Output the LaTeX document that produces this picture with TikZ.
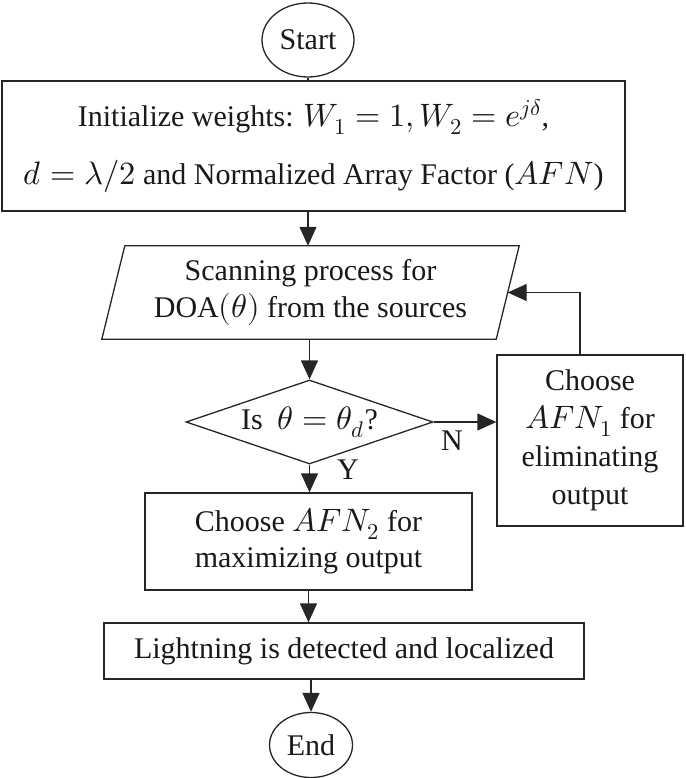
\documentclass[tikz,border=0pt]{standalone}
\usepackage{fontspec}
\usepackage{unicode-math}
\setmainfont{Liberation Serif}
\setmathfont{Latin Modern Math}[Scale=1.08]
\usetikzlibrary{shapes.geometric,arrows.meta}
\definecolor{linec}{gray}{0.15}
\definecolor{txtc}{gray}{0.1}
\tikzset{
  ln/.style={draw=linec, line width=1.3pt},
  arr/.style={ln, -{Triangle[length=19pt,width=17pt]}},
  fnt/.style={font=\fontsize{30}{38}\selectfont, text=txtc},
  box/.style={ln, rectangle, inner sep=0pt, align=center, fnt},
  term/.style={ln, ellipse, inner sep=0pt, fnt},
  lab/.style={inner sep=0pt, fnt}
}
\begin{document}
\begin{tikzpicture}[x=1pt,y=-1pt]
\useasboundingbox (0,0) rectangle (685,778);
\coordinate (ax) at (308,0);
\node[term, minimum width=92pt, minimum height=74pt] (start) at (308,40) {Start};
\node[box, minimum width=623pt, minimum height=130pt, font=\fontsize{30}{58}\selectfont] (init) at (313.5,146)
  {Initialize weights: $W_1 = 1, W_2 = e^{j\delta}$,\\ $d = \lambda/2$ and Normalized Array Factor ($AFN$)};
\node[inner sep=0pt, align=center, fnt, font=\fontsize{30}{37}\selectfont, minimum width=394pt, minimum height=93pt] (scan) at (310.5,292.5)
  {Scanning process for\\DOA$(\theta)$ from the sources};
\draw[ln] ([xshift=11.5pt]scan.north west) -- ([xshift=11.5pt]scan.north east) -- ([xshift=-11.5pt]scan.south east) -- ([xshift=-11.5pt]scan.south west) -- cycle;
\node[ln, diamond, aspect=2.94, minimum width=247pt, minimum height=84pt, inner sep=0pt, fnt] (dec) at (309.5,422) {Is\ \ $\theta = \theta_d$?};
\node[box, minimum width=186pt, minimum height=171pt] (afn1) at (590,440.5) {Choose\\$AFN_1$ for\\eliminating\\output};
\node[box, minimum width=327pt, minimum height=97pt, font=\fontsize{30}{36}\selectfont] (afn2) at (308.5,541.5) {Choose $AFN_2$ for\\maximizing output};
\node[box, minimum width=480pt, minimum height=56pt] (light) at (344,651) {Lightning is detected and localized};
\node[term, minimum width=83pt, minimum height=65pt] (end) at (311,745) {End};
\node[lab] (nlab) at (452,441) {N};
\node[lab] (ylab) at (348,470) {Y};
\draw[ln] (start.south) -- (start.south |- init.north);
\draw[arr] (init.south -| ax) -- (scan.north -| ax);
\draw[arr] (scan.south -| dec.north) -- (dec.north);
\draw[arr] (dec.east) -- (dec.east -| afn1.west);
\draw[arr] ([xshift=-10pt]afn1.north) |- (scan.east);
\draw[arr] (dec.south) -- (dec.south |- afn2.north);
\draw[arr] (afn2.south) -- (afn2.south |- light.north);
\draw[arr] (light.south -| end.north) -- (end.north);
\end{tikzpicture}
\end{document}
